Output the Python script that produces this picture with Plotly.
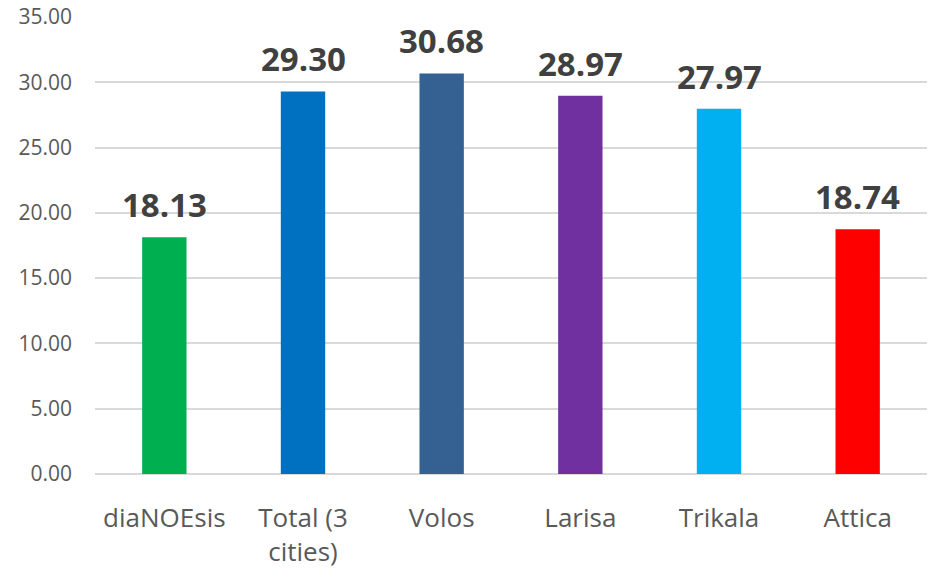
import plotly.graph_objects as go

categories = ["diaNOEsis", "Total (3<br>cities)", "Volos", "Larisa", "Trikala", "Attica"]
values = [18.13, 29.30, 30.68, 28.97, 27.97, 18.74]
colors = ["#00B050", "#0070C0", "#356092", "#7030A0", "#00B0F0", "#FF0000"]
tick_vals = [0, 5, 10, 15, 20, 25, 30, 35]
tick_text = ["%.2f" % v for v in tick_vals]

fig = go.Figure()
fig.add_trace(go.Bar(
    x=categories, y=values, marker=dict(color=colors, line=dict(width=0)),
    text=["%.2f" % v for v in values], textposition="none",
))
for c, v in zip(categories, values):
    fig.add_annotation(x=c, y=v, text="<b>%.2f</b>" % v, showarrow=False,
                       yanchor="bottom", yshift=8,
                       font=dict(family="Open Sans", size=33, color="#404040"))

fig.update_layout(
    width=930, height=570,
    margin=dict(l=95, r=3, t=17, b=96, autoexpand=False),
    paper_bgcolor="white", plot_bgcolor="white",
    bargap=0.68, showlegend=False,
    font=dict(family="Open Sans", color="#595959"),
)
fig.update_yaxes(range=[0, 35], tickvals=tick_vals, ticktext=tick_text,
                 showgrid=True, gridcolor="#D9D9D9", gridwidth=1.5,
                 zeroline=True, zerolinecolor="#D9D9D9", zerolinewidth=1.5,
                 tickfont=dict(size=21, color="#595959"), ticklabelstandoff=22,
                 automargin=False)
fig.update_xaxes(showline=False, tickfont=dict(size=26, color="#595959"),
                 ticks="", ticklabelstandoff=26, automargin=False)
fig.write_html("out.html", config={"displayModeBar": False},
               post_script="document.body.style.margin='0';document.body.style.overflow='hidden';")
